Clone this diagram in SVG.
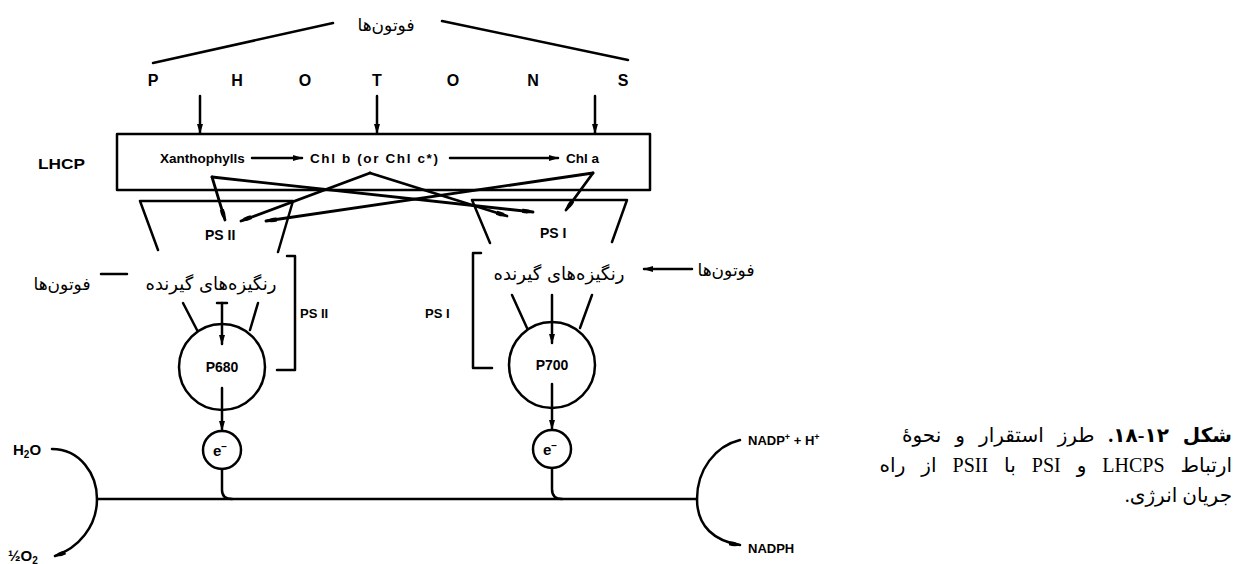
<svg xmlns="http://www.w3.org/2000/svg" width="1240" height="564" viewBox="0 0 1240 564">
<defs>
<style>
.ln{stroke:#000;fill:none;stroke-width:2.5;stroke-linecap:round;stroke-linejoin:round}
.th{stroke:#000;fill:none;stroke-width:2.8;stroke-linecap:round}
.lat{font-family:"Liberation Sans",Arial,sans-serif;font-weight:bold;fill:#000}
.fa{font-family:"DejaVu Sans",sans-serif;fill:#000}
.cap{font-family:"Liberation Serif","DejaVu Sans",serif;fill:#000}
</style>
<marker id="ah" viewBox="0 0 10 6" refX="9" refY="3" markerWidth="10" markerHeight="6" markerUnits="userSpaceOnUse" orient="auto">
<path d="M0,0 L10,3 L0,6 Z" fill="#000"/>
</marker>
<marker id="tp" viewBox="0 0 12 6" refX="11" refY="3" markerWidth="12" markerHeight="6" markerUnits="userSpaceOnUse" orient="auto">
<path d="M0,1 Q6,0 12,3 Q6,6 0,5 Z" fill="#000"/>
</marker>
</defs>
<rect width="1240" height="564" fill="#fff"/>

<g id="photons-top">
<text class="fa" x="386" y="31" font-size="17" text-anchor="middle" direction="rtl">فوتون‌ها</text>
<g class="lat" font-size="16" text-anchor="middle">
<text x="153" y="86">P</text><text x="237" y="86">H</text><text x="305" y="86">O</text><text x="377" y="86">T</text><text x="453" y="86">O</text><text x="533" y="86">N</text><text x="623" y="86">S</text>
</g>
</g>

<g id="lhcp">
<rect class="ln" x="117" y="134" width="533" height="56"/>
<text class="lat" x="38" y="169" font-size="14" textLength="47" lengthAdjust="spacingAndGlyphs">LHCP</text>
<text class="lat" x="160" y="163" font-size="13.5">Xanthophylls</text>
<text class="lat" x="310" y="163" font-size="13.5" textLength="128" lengthAdjust="spacing">Chl b (or Chl c*)</text>
<text class="lat" x="566" y="163" font-size="13.5">Chl a</text>
</g>

<g id="psii">
<text class="lat" x="205" y="240" font-size="14">PS II</text>
<text class="fa" x="211" y="290" font-size="18" text-anchor="middle" direction="rtl">رنگیزه‌های گیرنده</text>
<text class="fa" x="62" y="290" font-size="17" text-anchor="middle" direction="rtl">فوتون‌ها</text>
<text class="lat" x="300" y="318" font-size="13">PS II</text>
</g>

<g id="psi">
<text class="lat" x="540" y="238" font-size="14">PS I</text>
<text class="fa" x="559" y="280" font-size="18" text-anchor="middle" direction="rtl">رنگیزه‌های گیرنده</text>
<text class="fa" x="726" y="276" font-size="17" text-anchor="middle" direction="rtl">فوتون‌ها</text>
<text class="lat" x="425" y="318" font-size="13">PS I</text>
</g>

<g id="p680">
<circle class="ln" cx="222" cy="367" r="43"/>
<text class="lat" x="222" y="372" font-size="14" text-anchor="middle">P680</text>
</g>
<g id="p700">
<circle class="ln" cx="552" cy="365" r="43"/>
<text class="lat" x="552" y="370" font-size="14" text-anchor="middle">P700</text>
</g>
<g id="e1">
<circle class="ln" cx="222" cy="450" r="19"/>
<text class="lat" x="220" y="456" font-size="15" text-anchor="middle">e<tspan font-size="10" dy="-6">−</tspan></text>
</g>
<g id="e2">
<circle class="ln" cx="552" cy="449" r="19"/>
<text class="lat" x="550" y="455" font-size="15" text-anchor="middle">e<tspan font-size="10" dy="-6">−</tspan></text>
</g>

<g id="h2o"><text class="lat" x="13" y="455" font-size="15">H<tspan font-size="10" dy="3">2</tspan><tspan dy="-3">O</tspan></text></g>
<g id="o2"><text class="lat" x="8" y="561" font-size="15">½O<tspan font-size="10" dy="3">2</tspan></text></g>
<g id="nadp"><text class="lat" x="748" y="445" font-size="13">NADP<tspan font-size="9" dy="-5">+</tspan><tspan dy="5"> + H</tspan><tspan font-size="9" dy="-5">+</tspan></text></g>
<g id="nadph"><text class="lat" x="748" y="553" font-size="13">NADPH</text></g>

<g id="connectors">
<path class="ln" d="M153,63 L333,23"/>
<path class="ln" d="M442,21 L628,60"/>
<path class="ln" stroke-width="2" d="M200,96 L200,133" marker-end="url(#ah)"/>
<path class="ln" stroke-width="2" d="M377,96 L377,133" marker-end="url(#ah)"/>
<path class="ln" stroke-width="2" d="M595,96 L595,133" marker-end="url(#ah)"/>
<path class="ln" stroke-width="2" d="M252,158 L302,158" marker-end="url(#ah)"/>
<path class="ln" stroke-width="2" d="M450,158 L558,158" marker-end="url(#ah)"/>

<path class="th" d="M212,177 L225,220" marker-end="url(#tp)"/>
<path class="th" d="M212,177 L533,212" marker-end="url(#tp)"/>
<path class="th" d="M370,173 L241,221" marker-end="url(#tp)"/>
<path class="th" d="M370,173 L507,216" marker-end="url(#tp)"/>
<path class="th" d="M593,173 L266,221" marker-end="url(#tp)"/>
<path class="th" d="M593,173 L566,210" marker-end="url(#tp)"/>

<path class="ln" d="M158,250 L140,201 L293,201 L278,252"/>
<path class="ln" d="M490,243 L472,200 L627,200 L612,242"/>

<path class="ln" stroke-width="3.5" d="M101,274 L127,274"/>
<path class="ln" stroke-width="3.5" d="M692,269 L644,269" marker-end="url(#ah)"/>

<path class="ln" d="M287,256 L295,256 L295,370 L277,370"/>
<path class="ln" d="M481,253 L473,253 L473,368 L492,368"/>

<path class="ln" d="M183,303 L197,330"/>
<path class="ln" d="M258,303 L250,330"/>
<path class="ln" d="M217,303 L227,303"/>
<path class="ln" d="M222,303 L222,344" marker-end="url(#ah)"/>
<path class="ln" d="M512,295 L527,328"/>
<path class="ln" d="M592,295 L580,328"/>
<path class="ln" d="M552,295 L552,343" marker-end="url(#ah)"/>

<path class="ln" d="M222,388 L222,430" marker-end="url(#ah)"/>
<path class="ln" d="M552,384 L552,429" marker-end="url(#ah)"/>

<path class="ln" stroke-width="3" d="M222,469 L222,490 Q222,499 232,499"/>
<path class="ln" stroke-width="3" d="M552,468 L552,489 Q552,499 562,499"/>
<path class="ln" stroke-width="3" d="M97,499 L697,499"/>
<path class="ln" stroke-width="3" d="M52,449 C80,449 97,474 97,499 C97,527 78,548 55,556" marker-end="url(#tp)"/>
<path class="ln" stroke-width="3" d="M740,440 C715,446 697,470 697,499 C697,527 715,541 740,545" marker-end="url(#tp)"/>
</g>

<g id="caption" class="cap" font-size="20">
<text x="1232" y="442" direction="rtl" text-anchor="start" word-spacing="9"><tspan font-weight="bold">شکل ۱۲-۱۸.</tspan> طرز استقرار و نحوهٔ</text>
<text x="1232" y="472" direction="rtl" text-anchor="start" word-spacing="11">ارتباط LHCPS و PSI با PSII از راه</text>
<text x="1232" y="502" direction="rtl" text-anchor="start">جریان انرژی.</text>
</g>
</svg>
